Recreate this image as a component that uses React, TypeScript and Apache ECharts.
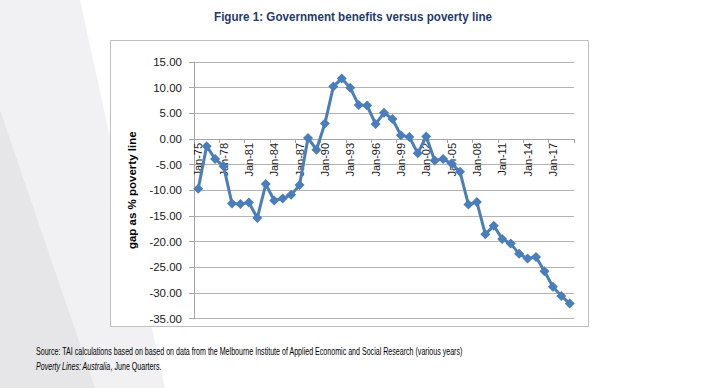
import React, { useEffect, useRef } from "react";
import * as echarts from "echarts";

const categories: string[] = [
  "Jan-75", "Jan-76", "Jan-77", "Jan-78", "Jan-79", "Jan-80", "Jan-81", "Jan-82", "Jan-83",
  "Jan-84", "Jan-85", "Jan-86", "Jan-87", "Jan-88", "Jan-89", "Jan-90", "Jan-91", "Jan-92",
  "Jan-93", "Jan-94", "Jan-95", "Jan-96", "Jan-97", "Jan-98", "Jan-99", "Jan-00", "Jan-01",
  "Jan-02", "Jan-03", "Jan-04", "Jan-05", "Jan-06", "Jan-07", "Jan-08", "Jan-09", "Jan-10",
  "Jan-11", "Jan-12", "Jan-13", "Jan-14", "Jan-15", "Jan-16", "Jan-17", "Jan-18", "Jan-19",
];

const gapValues: number[] = [
  -9.7, -1.4, -3.9, -5.3, -12.6, -12.7, -12.4, -15.4, -8.8,
  -12.0, -11.6, -10.9, -9.0, 0.2, -2.1, 3.0, 10.2, 11.8,
  10.0, 6.6, 6.5, 2.9, 5.1, 3.9, 0.7, 0.4, -2.8,
  0.5, -4.2, -3.9, -4.8, -6.4, -12.8, -12.3, -18.6, -16.9,
  -19.5, -20.4, -22.4, -23.3, -23.0, -25.8, -28.8, -30.6, -32.1,
];

const Y_MIN = -35;
const Y_MAX = 15;
const Y_STEP = 5;

const titleText = "Figure 1: Government benefits versus poverty line";
const yAxisTitle = "gap as % poverty line";
const sourceLine1 =
  "Source: TAI calculations based on based on data from the Melbourne Institute of Applied Economic and Social Research (various years)";
const sourceItalic = "Poverty Lines: Australia";
const sourceRest = ", June Quarters.";

const FONT = "'Liberation Sans', Arial, sans-serif";

const GRID_TOP = 62;
const GRID_BOTTOM = 69.5;
const CHART_H = 388;

export default function App() {
  const ref = useRef<HTMLDivElement>(null);

  useEffect(() => {
    if (!ref.current) return;
    const chart = echarts.init(ref.current, undefined, { renderer: "svg" });
    const gridH = CHART_H - GRID_TOP - GRID_BOTTOM;
    // distance from the grid's bottom edge up to the value 0 line
    const zeroOffset = -(gridH * (0 - Y_MIN)) / (Y_MAX - Y_MIN);
    chart.setOption({
      animation: false,
      backgroundColor: "#ffffff",
      graphic: [
        {
          type: "polygon",
          z: -10,
          silent: true,
          shape: { points: [[0, 0], [80, 0], [165, 388], [0, 388]] },
          style: { fill: "#f1f1f3" },
        },
        {
          type: "polygon",
          z: -9,
          silent: true,
          shape: { points: [[0, 110], [95, 388], [0, 388]] },
          style: { fill: "#e6e6e8" },
        },
        {
          type: "rect",
          z: -5,
          silent: true,
          shape: { x: 110.5, y: 40.5, width: 478, height: 286 },
          style: { fill: "#ffffff", stroke: "#bfbfbf", lineWidth: 1 },
        },
        {
          type: "text",
          x: 353,
          y: 17,
          scaleX: 0.97,
          style: {
            text: titleText,
            fill: "#1f3b6e",
            font: "bold 12px " + FONT,
            align: "center",
            verticalAlign: "middle",
          },
        },
        {
          type: "text",
          x: 36,
          y: 352,
          scaleX: 0.71,
          style: {
            text: sourceLine1,
            fill: "#000000",
            font: "10px " + FONT,
            align: "left",
            verticalAlign: "middle",
          },
        },
        {
          type: "text",
          x: 36,
          y: 367,
          scaleX: 0.71,
          style: {
            text: "{i|" + sourceItalic + "}" + sourceRest,
            fill: "#000000",
            font: "10px " + FONT,
            align: "left",
            verticalAlign: "middle",
            rich: {
              i: { fontStyle: "italic", fontSize: 10, fontFamily: FONT, fill: "#000000" },
            },
          },
        },
      ],
      grid: { left: 194, right: 149, top: GRID_TOP, bottom: GRID_BOTTOM, containLabel: false },
      xAxis: {
        type: "category",
        data: categories,
        boundaryGap: true,
        position: "bottom",
        offset: zeroOffset,
        axisLine: { show: true, onZero: false, lineStyle: { color: "#a6a6a6", width: 1 } },
        axisTick: { show: true, interval: 2, length: 4, lineStyle: { color: "#a6a6a6" } },
        axisLabel: {
          interval: 2,
          rotate: 90,
          margin: 4,
          color: "#1a1a1a",
          fontSize: 11,
          fontFamily: FONT,
        },
        splitLine: { show: false },
      },
      yAxis: {
        type: "value",
        min: Y_MIN,
        max: Y_MAX,
        interval: Y_STEP,
        name: yAxisTitle,
        nameLocation: "middle",
        nameGap: 51,
        nameRotate: 90,
        nameTextStyle: { fontWeight: "bold", fontSize: 11.5, color: "#000000", fontFamily: FONT },
        axisLine: { show: true, lineStyle: { color: "#a6a6a6", width: 1 } },
        axisTick: { show: true, length: 5, lineStyle: { color: "#a6a6a6" } },
        axisLabel: {
          formatter: (v: number) => v.toFixed(2),
          color: "#1a1a1a",
          fontSize: 11.5,
          fontFamily: FONT,
          margin: 12,
        },
        splitLine: { show: true, lineStyle: { color: "#b3b3b3", width: 1 } },
      },
      series: [
        {
          type: "line",
          data: gapValues,
          symbol: "diamond",
          symbolSize: 10,
          showAllSymbol: true,
          lineStyle: { color: "#4a7ebb", width: 3 },
          itemStyle: { color: "#4a7ebb" },
          z: 5,
        },
      ],
    });
    return () => chart.dispose();
  }, []);

  return (
    <div
      ref={ref}
      style={{ position: "fixed", left: 0, top: 0, width: 723, height: 388 }}
    />
  );
}
